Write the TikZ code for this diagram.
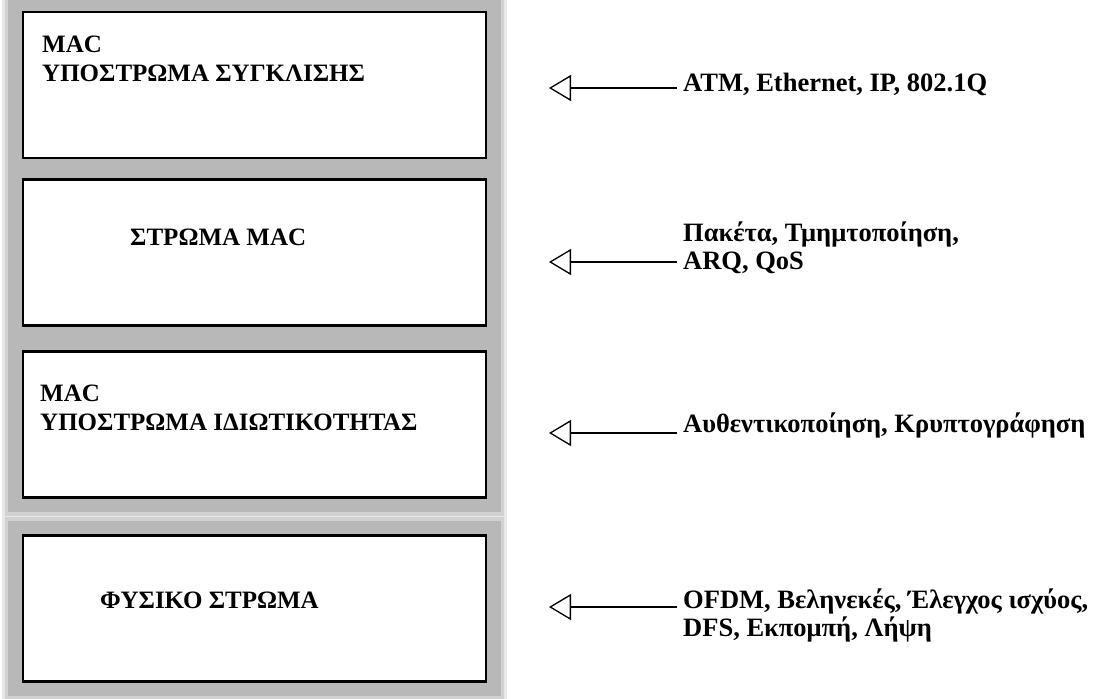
\documentclass[tikz,border=0pt]{standalone}
\usepackage{fontspec}
\setmainfont{Liberation Serif}
\usetikzlibrary{arrows.meta,backgrounds}
\begin{document}
\begin{tikzpicture}[x=1pt,y=-1pt,
  layerbox/.style={draw=black, line width=2.4pt, fill=white,
    minimum width=463pt, minimum height=146pt, inner sep=0pt},
  haloA/.style={draw=black!9, line width=40pt},
  haloB/.style={draw=black!18, line width=34pt},
  haloC/.style={draw=black!28, line width=27pt},
  lbl/.style={anchor=base west, inner sep=0pt, align=left,
    font=\fontsize{25}{29}\selectfont\bfseries},
  rlbl/.style={lbl, font=\fontsize{26.5}{28}\selectfont\bfseries},
  arr/.style={-{Triangle[open,length=22pt,width=26pt]}, line width=1.3pt}
]
\useasboundingbox (0,0) rectangle (1099,698);

% layer boxes
\node[layerbox] (b1) at (254.5,85) {};
\node[layerbox] (b2) at (254.5,252.5) {};
\node[layerbox] (b3) at (254.5,424.5) {};
\node[layerbox] (b4) at (254.5,608.5) {};

\begin{scope}[on background layer]
  \fill[white] (0,0) rectangle (1099,698);
  \foreach \b in {b1,b2,b3,b4} \draw[haloA] (\b.north west) rectangle (\b.south east);
  \foreach \b in {b1,b2,b3,b4} \draw[haloB] (\b.north west) rectangle (\b.south east);
  \foreach \b in {b1,b2,b3,b4} \draw[haloC] (\b.north west) rectangle (\b.south east);
  \foreach \b in {b1,b2,b3,b4} \fill[white] (\b.north west) rectangle (\b.south east);
\end{scope}

% box labels (base = baseline of last line)
\node[lbl] (l1) at (42,82) {MAC\\ΥΠΟΣΤΡΩΜΑ ΣΥΓΚΛΙΣΗΣ};
\node[lbl] (l2) at (130,245) {ΣΤΡΩΜΑ MAC};
\node[lbl] (l3) at (40,430) {MAC\\ΥΠΟΣΤΡΩΜΑ ΙΔΙΩΤΙΚΟΤΗΤΑΣ};
\node[lbl] (l4) at (100,608) {ΦΥΣΙΚΟ ΣΤΡΩΜΑ};

% right-hand texts
\node[rlbl] (r1) at (683,92) {ATM, Ethernet, IP, 802.1Q};
\node[rlbl] (r2) at (683,269) {Πακέτα, Τμημτοποίηση,\\ARQ, QoS};
\node[rlbl] (r3) at (683,432) {Αυθεντικοποίηση, Κρυπτογράφηση};
\node[rlbl] (r4) at (683,636) {OFDM, Βεληνεκές, Έλεγχος ισχύος,\\DFS, Εκπομπή, Λήψη};

% arrow ends
\coordinate (s1) at (677,88);  \coordinate (t1) at (549,88);
\coordinate (s2) at (677,262); \coordinate (t2) at (549,262);
\coordinate (s3) at (677,433); \coordinate (t3) at (549,433);
\coordinate (s4) at (677,607); \coordinate (t4) at (549,607);

\draw[arr] (s1) -- (t1);
\draw[arr] (s2) -- (t2);
\draw[arr] (s3) -- (t3);
\draw[arr] (s4) -- (t4);
\end{tikzpicture}
\end{document}
